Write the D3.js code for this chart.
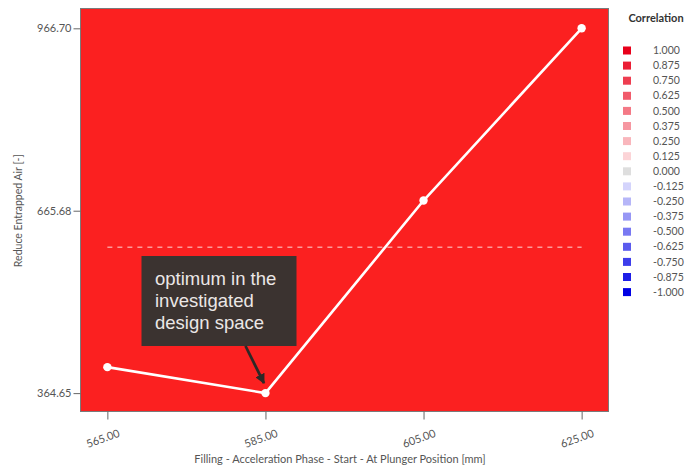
<!DOCTYPE html>
<html>
<head>
<meta charset="utf-8">
<script src="https://cdn.jsdelivr.net/npm/d3@7"></script>
<style>
  html, body { margin: 0; padding: 0; background: #ffffff; }
  svg { display: block; }
  text { font-family: Lato, "Open Sans", sans-serif; }
</style>
</head>
<body>
<svg id="chart" width="689" height="469"></svg>
<script>
// Response of entrapped air against the acceleration-phase start position
const positions = [565, 585, 605, 625];
const entrappedAir = [407.5, 364.65, 682.5, 966.70];
const xTickLabels = ["565.00", "585.00", "605.00", "625.00"];
const yTickValues = [364.65, 665.68, 966.70];
const yTickLabels = ["364.65", "665.68", "966.70"];
const correlationLevels = [1.000, 0.875, 0.750, 0.625, 0.500, 0.375, 0.250, 0.125, 0.000,
  -0.125, -0.250, -0.375, -0.500, -0.625, -0.750, -0.875, -1.000];
const correlationLabels = ["1.000", "0.875", "0.750", "0.625", "0.500", "0.375", "0.250", "0.125", "0.000",
  "-0.125", "-0.250", "-0.375", "-0.500", "-0.625", "-0.750", "-0.875", "-1.000"];
const calloutLines = ["optimum in the", "investigated", "design space"];

const svg = d3.select("#chart");
const plot = { left: 80.5, top: 8.5, right: 608.5, bottom: 411.5 };

const x = d3.scaleLinear().domain([561.6, 628.4]).range([plot.left, plot.right]);
const y = d3.scaleLinear().domain([334.3, 999.4]).range([plot.bottom, plot.top]);

// Correlation colour: grey at zero, fading from pale to full red / blue
const color = v => {
  if (v === 0) return "#dedede";
  return v > 0
    ? d3.interpolateRgb("#fff2f2", "#e8001a")(v)
    : d3.interpolateRgb("#f2f2ff", "#0000e4")(-v);
};

// Plot area filled with the correlation colour of this parameter
svg.append("rect")
  .attr("x", plot.left).attr("y", plot.top)
  .attr("width", plot.right - plot.left).attr("height", plot.bottom - plot.top)
  .attr("fill", "#fb2020")
  .attr("stroke", "#7a7a7a").attr("stroke-width", 1);

// Y axis
const yAxis = d3.axisLeft(y).tickValues(yTickValues)
  .tickFormat((d, i) => yTickLabels[i]).tickSize(7).tickPadding(2);
const gy = svg.append("g").attr("transform", `translate(${plot.left},0)`).call(yAxis);
gy.select(".domain").remove();
gy.selectAll(".tick line").attr("stroke", "#666");
gy.selectAll(".tick text").attr("fill", "#555").style("font-size", "11px");

// X axis
const xAxis = d3.axisBottom(x).tickValues(positions)
  .tickFormat((d, i) => xTickLabels[i]).tickSize(8).tickPadding(0);
const gx = svg.append("g").attr("transform", `translate(0,${plot.bottom})`).call(xAxis);
gx.select(".domain").remove();
gx.selectAll(".tick line").attr("stroke", "#666");
gx.selectAll(".tick text")
  .attr("fill", "#555").style("font-size", "11px")
  .attr("text-anchor", "middle")
  .attr("y", 0).attr("dy", "0.35em")
  .attr("transform", "translate(-5,27) rotate(-20)");

// Axis titles
svg.append("text")
  .attr("transform", `translate(22,${(y(yTickValues[0]) + y(yTickValues[2])) / 2}) rotate(-90)`)
  .attr("text-anchor", "middle")
  .attr("fill", "#555").style("font-size", "10.5px")
  .text("Reduce Entrapped Air [-]");

svg.append("text")
  .attr("x", 340).attr("y", 463)
  .attr("text-anchor", "middle")
  .attr("fill", "#555").style("font-size", "11px")
  .text("Filling - Acceleration Phase - Start - At Plunger Position [mm]");

// Mean response as a dashed reference line
const meanValue = d3.mean(entrappedAir);
svg.append("line")
  .attr("x1", x(positions[0])).attr("x2", x(positions[positions.length - 1]))
  .attr("y1", y(meanValue)).attr("y2", y(meanValue))
  .attr("stroke", "rgba(255,255,255,0.55)")
  .attr("stroke-width", 1.5)
  .attr("stroke-dasharray", "5,5");

// Response line and points
const pts = positions.map((p, i) => [p, entrappedAir[i]]);
svg.append("path")
  .datum(pts)
  .attr("d", d3.line().x(d => x(d[0])).y(d => y(d[1])))
  .attr("fill", "none")
  .attr("stroke", "#ffffff")
  .attr("stroke-width", 2.6)
  .attr("stroke-linejoin", "round");

svg.selectAll("circle.pt")
  .data(pts).join("circle")
  .attr("class", "pt")
  .attr("cx", d => x(d[0])).attr("cy", d => y(d[1]))
  .attr("r", 4.2)
  .attr("fill", "#ffffff");

// Callout pointing at the minimum
const iMin = d3.minIndex(entrappedAir);
const box = { x: 141.5, y: 256, w: 155, h: 90 };
svg.append("rect")
  .attr("x", box.x).attr("y", box.y).attr("width", box.w).attr("height", box.h)
  .attr("fill", "#3b3330");
svg.append("g").selectAll("text")
  .data(calloutLines).join("text")
  .attr("x", box.x + 13.5)
  .attr("y", (d, i) => box.y + 29 + i * 22)
  .attr("fill", "#ebe7e6")
  .style("font-family", "'Liberation Sans', Arial, sans-serif")
  .style("font-size", "18.5px")
  .text(d => d);

const defs = svg.append("defs");
defs.append("marker")
  .attr("id", "arrowhead")
  .attr("viewBox", "0 0 10 10")
  .attr("refX", 9).attr("refY", 5)
  .attr("markerWidth", 3.6).attr("markerHeight", 3.6)
  .attr("orient", "auto")
  .append("path").attr("d", "M0,0 L10,5 L0,10 Z").attr("fill", "#2d2826");

const tipX = x(positions[iMin]) - 1.5;
const tipY = y(entrappedAir[iMin]) - 10;
svg.append("line")
  .attr("x1", box.x + 104).attr("y1", box.y + box.h)
  .attr("x2", tipX).attr("y2", tipY)
  .attr("stroke", "#2d2826").attr("stroke-width", 2.8)
  .attr("marker-end", "url(#arrowhead)");

// Correlation legend
const legend = svg.append("g");
legend.append("text")
  .attr("x", 656).attr("y", 22)
  .attr("text-anchor", "middle")
  .attr("fill", "#333").style("font-size", "11px").style("font-weight", "bold")
  .text("Correlation");

const rowY = i => 50.5 + i * 15.1;
legend.selectAll("rect")
  .data(correlationLevels).join("rect")
  .attr("x", 623).attr("y", (d, i) => rowY(i) - 4)
  .attr("width", 8).attr("height", 8)
  .attr("fill", d => color(d));
legend.selectAll("text.lv")
  .data(correlationLabels).join("text")
  .attr("class", "lv")
  .attr("x", 653)
  .attr("y", (d, i) => rowY(i))
  .attr("dy", "0.35em")
  .attr("fill", "#555").style("font-size", "10.5px")
  .text(d => d);
</script>
</body>
</html>
